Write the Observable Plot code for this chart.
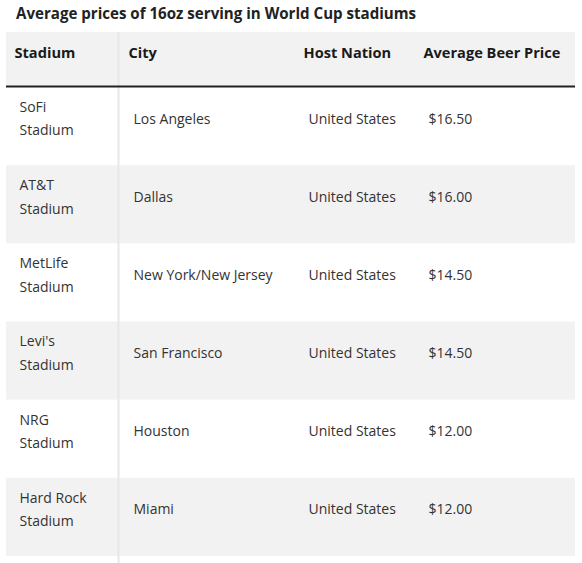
<!DOCTYPE html>
<html>
<head>
<meta charset="utf-8">
<script src="https://cdn.jsdelivr.net/npm/d3@7"></script>
<script src="https://cdn.jsdelivr.net/npm/@observablehq/plot@0.6"></script>
<style>
  html, body { margin: 0; padding: 0; background: #fff; }
  body { width: 582px; height: 563px; overflow: hidden; font-family: "Open Sans", sans-serif; }
  #title { height: 28px; line-height: 26px; padding-left: 16px; font-size: 15.1px; font-weight: 700; color: #222; white-space: nowrap; }
  #chart svg { display: block; }
</style>
</head>
<body>
<div id="title">Average prices of 16oz serving in World Cup stadiums</div>
<div id="chart"></div>
<script>
const columns = ["Stadium", "City", "Host Nation", "Average Beer Price"];
const stadiums = ["SoFi Stadium", "AT&T Stadium", "MetLife Stadium", "Levi's Stadium", "NRG Stadium", "Hard Rock Stadium"];
const cities = ["Los Angeles", "Dallas", "New York/New Jersey", "San Francisco", "Houston", "Miami"];
const nations = ["United States", "United States", "United States", "United States", "United States", "United States"];
const prices = [16.5, 16.0, 14.5, 14.5, 12.0, 12.0];

const fmtPrice = d3.format("$.2f");

// row 0 is the header row, rows 1..6 are body rows
const bodyRows = stadiums.map((s, i) => ({
  row: i + 1,
  cells: [s.replace(/ Stadium$/, "\nStadium"), cities[i], nations[i], fmtPrice(prices[i])]
}));
const headerRow = {row: 0, cells: columns};

const headerCells = columns.map((c, j) => ({row: 0, col: j, text: c}));
const bodyCells = bodyRows.flatMap(r => r.cells.map((t, j) => ({row: r.row, col: j, text: t})));
const shadedRows = [headerRow, ...bodyRows.filter(r => r.row % 2 === 0)];

const chart = Plot.plot({
  width: 582,
  height: 535,
  marginTop: 4,
  marginBottom: 0,
  marginLeft: 6,
  marginRight: 7,
  style: {fontFamily: "'Open Sans', sans-serif", background: "transparent"},
  x: {type: "linear", domain: [0, 1, 2, 3, 4], range: [6, 120, 295, 415, 575], axis: null},
  y: {type: "linear", domain: [0, 1, 7], range: [4, 59, 528], axis: null},
  marks: [
    Plot.rect(shadedRows, {y1: d => d.row, y2: d => d.row + 1, fill: "#f2f2f2"}),
    Plot.ruleX([1], {stroke: "#e8e8e8", strokeWidth: 2, dx: -2}),
    Plot.ruleY([1], {stroke: "#222", strokeWidth: 2, dy: -1}),
    Plot.text(headerCells, {
      x: "col", y: d => d.row + 0.5, text: "text",
      textAnchor: "start", dx: 8, dy: -7,
      fontSize: 14.6, fontWeight: 700, fill: "#1a1a1a"
    }),
    Plot.text(bodyCells, {
      x: "col", y: d => d.row + 0.5, text: "text",
      textAnchor: "start", dx: 13, dy: -10.5,
      fontSize: 14, lineHeight: 1.68, fill: "#333"
    })
  ]
});
document.getElementById("chart").append(chart);
</script>
</body>
</html>
